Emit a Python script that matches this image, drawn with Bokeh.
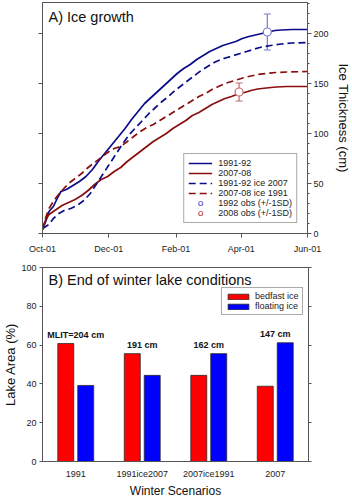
from bokeh.plotting import figure
from bokeh.models import (ColumnDataSource, Range1d, FactorRange, LinearAxis, FixedTicker,
                          Legend, LegendItem, Label, Whisker, TeeHead)
from bokeh.layouts import column
from bokeh.transform import dodge
from bokeh.embed import file_html
from bokeh.resources import INLINE
from bokeh.core.properties import value

FONT = "Liberation Sans"
AXC = "#555555"

# ---------------- Panel A data (days since Oct-01) ----------------
tick_days = [0, 61, 123, 183, 244]
tick_labels = ["Oct-01", "Dec-01", "Feb-01", "Apr-01", "Jun-01"]
ice_ticks = [0, 50, 100, 150, 200]

days_9192 = [0, 3, 6, 10, 14, 17, 22, 28, 34, 40, 46, 52, 58, 64, 70, 76, 82, 88, 94, 100,
             106, 112, 118, 124, 130, 136, 142, 148, 154, 160, 166, 172, 178, 184, 190, 196,
             202, 208, 214, 220, 230, 244]
ice_9192 = [4, 12, 22, 27, 36, 42, 44, 48, 52, 57, 64, 73, 81, 89, 97, 105, 114, 122, 130, 136,
            142, 148, 154, 160, 165, 169, 174, 178, 182, 185, 188, 190, 192, 195, 197, 198.5,
            200, 201.5, 203, 203.5, 204, 204]

days_9192_ice07 = [0, 3, 6, 10, 15, 20, 26, 32, 38, 44, 50, 56, 62, 68, 74, 80, 86, 92, 98, 104,
                   110, 116, 122, 128, 134, 140, 146, 152, 158, 164, 170, 176, 182, 188, 194, 200,
                   210, 220, 230, 244]
ice_9192_ice07 = [5, 7, 9, 15, 20, 23, 25, 28, 33, 40, 50, 60, 70, 80, 90, 99, 106, 113, 120, 126,
                  132, 137, 143, 148, 153, 158, 163, 167, 171, 174, 176, 178, 180, 182, 184, 186,
                  188, 189.5, 190.5, 191]

days_0708 = [0, 3, 6, 10, 14, 18, 24, 30, 36, 42, 48, 54, 60, 66, 72, 78, 84, 90, 96, 102,
             108, 114, 120, 126, 132, 138, 144, 150, 156, 162, 168, 174, 180, 186, 192, 198,
             206, 215, 225, 244]
ice_0708 = [4, 14, 19, 22, 25, 28, 31, 34, 38, 43, 49, 54, 57, 62, 66, 72, 77, 82, 87, 92,
            96, 100, 105, 109, 113, 118, 121, 125, 129, 132, 135, 137, 139.5, 141, 143, 144.5,
            145.5, 146.5, 147, 147]

days_0708_ice91 = days_0708
ice_0708_ice91 = [4, 16, 25, 32, 38, 43, 50, 55, 60, 66, 71, 76, 81, 85, 87, 92, 97, 102, 106, 109,
                  113, 117, 121, 125, 129, 133, 137, 140, 144, 147, 150, 152, 154, 156, 157.5, 159,
                  160, 161, 161.5, 162]

obs1992_day = [207]
obs1992_mean = [201.5]
obs1992_sd = [18]
obs2008_day = [181]
obs2008_mean = [141.5]
obs2008_sd = [9]

# ---------------- Panel B data ----------------
scenarios = ["1991", "1991ice2007", "2007ice1991", "2007"]
bedfast = [60.8, 55.6, 44.4, 38.8]
floating = [39.2, 44.4, 55.6, 61.2]
mlit_cm = [204, 191, 162, 147]
area_ticks = [0, 20, 40, 60, 80, 100]

BLUE = "#0c0c8a"
RED = "#8a0f0f"
OBS_BLUE = "#7878d0"
OBS_RED = "#c46a6a"


def style_axis(ax, size="9px"):
    ax.axis_line_color = AXC
    ax.major_tick_line_color = AXC
    ax.minor_tick_line_color = AXC
    ax.major_label_text_font = FONT
    ax.major_label_text_font_size = size
    ax.major_label_text_color = "#222222"
    ax.axis_label_text_font = FONT
    ax.axis_label_text_font_style = "normal"
    ax.axis_label_text_color = "#111111"
    ax.major_tick_in = 0
    ax.minor_tick_in = 0


def hide_labels(ax):
    ax.major_label_text_font_size = "1px"
    ax.major_label_text_color = None
    ax.major_label_standoff = 0


# ---------------- Panel A ----------------
p1 = figure(frame_width=265, frame_height=231, x_range=Range1d(0, 244), y_range=Range1d(0, 231),
            output_backend="svg", toolbar_location=None,
            min_border_left=42, min_border_right=45, min_border_top=2, min_border_bottom=25)
p1.grid.visible = False
p1.outline_line_color = AXC
p1.background_fill_color = "white"

xa = p1.xaxis[0]
xa.ticker = FixedTicker(ticks=tick_days)
xa.major_label_overrides = {d: l for d, l in zip(tick_days, tick_labels)}
style_axis(xa)
xa.major_tick_out = 4
xa.major_label_standoff = 6
xa.minor_tick_line_color = None

ya = p1.yaxis[0]
ya.ticker = FixedTicker(ticks=ice_ticks)
style_axis(ya)
hide_labels(ya)
ya.major_tick_out = 4
ya.minor_tick_line_color = None

yr = LinearAxis(ticker=FixedTicker(ticks=ice_ticks, minor_ticks=list(range(0, 231, 10))),
                axis_label="Ice Thickness (cm)")
style_axis(yr)
yr.major_tick_out = 4
yr.minor_tick_out = 2
yr.major_label_standoff = 2
yr.axis_label_standoff = 4
yr.axis_label_text_font_size = "13px"
p1.add_layout(yr, "right")

r1 = p1.line(days_9192, ice_9192, line_color=BLUE, line_width=1.7)
r2 = p1.line(days_0708, ice_0708, line_color=RED, line_width=1.7)
r3 = p1.line(days_9192_ice07, ice_9192_ice07, line_color=BLUE, line_width=1.7, line_dash="7 4")
r4 = p1.line(days_0708_ice91, ice_0708_ice91, line_color=RED, line_width=1.7, line_dash="7 4")

obs_renderers = []
for d, m, s, c in [(obs1992_day, obs1992_mean, obs1992_sd, OBS_BLUE),
                   (obs2008_day, obs2008_mean, obs2008_sd, OBS_RED)]:
    src = ColumnDataSource(dict(x=d, y=m,
                                lo=[a - b for a, b in zip(m, s)],
                                hi=[a + b for a, b in zip(m, s)]))
    w = Whisker(base="x", lower="lo", upper="hi", source=src, line_color=c, line_width=1.2,
                upper_head=TeeHead(size=7, line_color=c, line_width=1.2),
                lower_head=TeeHead(size=7, line_color=c, line_width=1.2))
    p1.add_layout(w)
    rr = p1.scatter("x", "y", source=src, marker="circle", size=8, fill_color="white",
                    line_color=c, line_width=1.2)
    obs_renderers.append(rr)

leg1 = Legend(items=[LegendItem(label="1991-92", renderers=[r1]),
                     LegendItem(label="2007-08", renderers=[r2]),
                     LegendItem(label="1991-92 ice 2007", renderers=[r3]),
                     LegendItem(label="2007-08 ice 1991", renderers=[r4]),
                     LegendItem(label="1992 obs (+/-1SD)", renderers=[obs_renderers[0]]),
                     LegendItem(label="2008 obs (+/-1SD)", renderers=[obs_renderers[1]])],
              location="bottom_right", margin=10, padding=4, spacing=0,
              glyph_width=24, glyph_height=10, label_height=10, label_standoff=6,
              label_text_font=FONT, label_text_font_size="9px", label_text_color="#222222",
              border_line_color=AXC, border_line_width=1, background_fill_alpha=1)
p1.add_layout(leg1)

p1.add_layout(Label(x=5.5, y=217, text="A) Ice growth", text_font=FONT, text_font_size="14.5px",
                    text_baseline="middle", text_color="#111111"))

# ---------------- Panel B ----------------
src_b = ColumnDataSource(dict(
    scenario=scenarios, bedfast=bedfast, floating=floating,
    label=[("MLIT=%d cm" if i == 0 else "%d cm") % v for i, v in enumerate(mlit_cm)],
    label_y=[max(a, b) + 4.5 for a, b in zip(bedfast, floating)]))

FH2 = 194
p2 = figure(frame_width=266, frame_height=FH2, x_range=FactorRange(factors=scenarios),
            y_range=Range1d(0, 100), output_backend="svg", toolbar_location=None,
            min_border_left=41, min_border_right=45, min_border_top=9, min_border_bottom=40)
p2.grid.visible = False
p2.outline_line_color = AXC

rb = p2.vbar(x=dodge("scenario", -0.15, range=p2.x_range), top="bedfast", width=0.24,
             source=src_b, fill_color="#ff0000", line_color="#2a2a2a", line_width=0.8)
rf = p2.vbar(x=dodge("scenario", 0.15, range=p2.x_range), top="floating", width=0.24,
             source=src_b, fill_color="#0000ff", line_color="#2a2a2a", line_width=0.8)
p2.text(x="scenario", y="label_y", text="label", source=src_b, text_font=value(FONT),
        text_font_style="bold", text_font_size="9px", text_align="center",
        text_baseline="middle", text_color="#111111")

bx = p2.xaxis[0]
style_axis(bx)
bx.major_tick_line_color = None
bx.major_tick_out = 0
bx.major_label_standoff = 7
bx.axis_label = "Winter Scenarios"
bx.axis_label_text_font_size = "12px"
bx.axis_label_standoff = 2

by = p2.yaxis[0]
by.ticker = FixedTicker(ticks=area_ticks)
style_axis(by)
by.major_tick_out = 3
by.major_label_standoff = 3
by.minor_tick_line_color = None
by.axis_label = "Lake Area (%)"
by.axis_label_text_font_size = "13px"
by.axis_label_standoff = 0

byr = LinearAxis(ticker=FixedTicker(ticks=area_ticks))
style_axis(byr)
hide_labels(byr)
byr.major_tick_out = 3
byr.minor_tick_line_color = None
p2.add_layout(byr, "right")

leg2 = Legend(items=[LegendItem(label="bedfast ice", renderers=[rb]),
                     LegendItem(label="floating ice", renderers=[rf])],
              location=(179, FH2 - 22 - 26), padding=3, spacing=0,
              glyph_width=26, glyph_height=7, label_height=10, label_standoff=4,
              label_text_font=FONT, label_text_font_size="9px", label_text_color="#222222",
              border_line_color=AXC, border_line_width=1, background_fill_alpha=1)
p2.add_layout(leg2)

p2.add_layout(Label(x=0.09, y=93.5, text="B) End of winter lake conditions", text_font=FONT,
                    text_font_size="14.5px", text_baseline="middle", text_color="#111111"))

layout = column(p1, p2, spacing=0)
open("out.html", "w").write(file_html(layout, INLINE))
